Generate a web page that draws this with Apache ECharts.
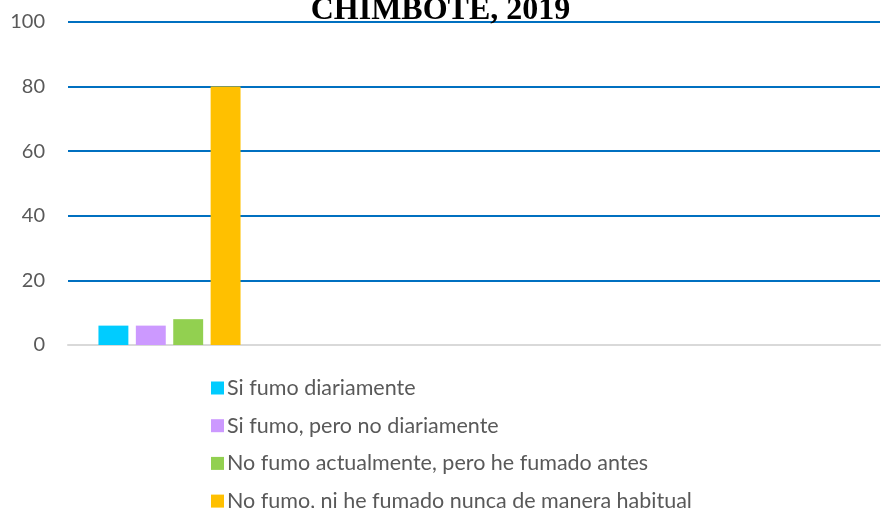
<!DOCTYPE html>
<html>
<head>
<meta charset="utf-8">
<script src="https://cdn.jsdelivr.net/npm/echarts@6/dist/echarts.min.js"></script>
<style>
  html, body { margin: 0; padding: 0; background: #fff; }
  #main { width: 881px; height: 508px; }
</style>
</head>
<body>
<div id="main"></div>
<script>
// data
const categories = ['Total', '', '', ''];
const seriesNames = [
  'Si fumo diariamente',
  'Si fumo, pero no diariamente',
  'No fumo actualmente, pero he fumado antes',
  'No fumo, ni he fumado nunca de manera habitual'
];
const siDiario = [6];
const siNoDiario = [6];
const exFumador = [8];
const nunca = [80];
const colors = ['#00CCFF', '#CC99FF', '#92D050', '#FFC000'];

const values = [siDiario, siNoDiario, exFumador, nunca];

const chart = echarts.init(document.getElementById('main'), null, { renderer: 'canvas' });

const option = {
  animation: false,
  title: {
    text: 'CHIMBOTE, 2019',
    left: 'center',
    top: -5,
    padding: 0,
    textStyle: {
      fontFamily: 'Liberation Serif',
      fontWeight: 'bold',
      fontSize: 32,
      color: '#000'
    }
  },
  legend: {
    orient: 'vertical',
    left: 211,
    top: 376,
    height: 160,
    padding: 0,
    itemWidth: 13,
    itemHeight: 13,
    itemGap: 13.7,
    icon: 'rect',
    textStyle: {
      fontFamily: 'Lato',
      fontSize: 21.5,
      lineHeight: 24,
      padding: [0, 0, 0, -2],
      color: '#595959'
    },
    data: seriesNames
  },
  grid: {
    left: 68,
    right: 1,
    top: 22,
    bottom: 163,
    containLabel: false
  },
  xAxis: {
    type: 'category',
    data: categories,
    axisLine: { lineStyle: { color: '#D9D9D9', width: 2 } },
    axisTick: { show: false },
    axisLabel: { show: false }
  },
  yAxis: {
    type: 'value',
    min: 0,
    max: 100,
    interval: 20,
    axisLine: { show: false },
    axisTick: { show: false },
    axisLabel: {
      margin: 23,
      fontFamily: 'Lato',
      fontSize: 20,
      color: '#595959'
    },
    splitLine: {
      lineStyle: { color: '#0070C0', width: 2 }
    }
  },
  series: seriesNames.map((name, i) => ({
    name: name,
    type: 'bar',
    data: values[i],
    barGap: '25%',
    barCategoryGap: '30%',
    itemStyle: { color: colors[i] }
  }))
};

chart.setOption(option);
</script>
</body>
</html>
